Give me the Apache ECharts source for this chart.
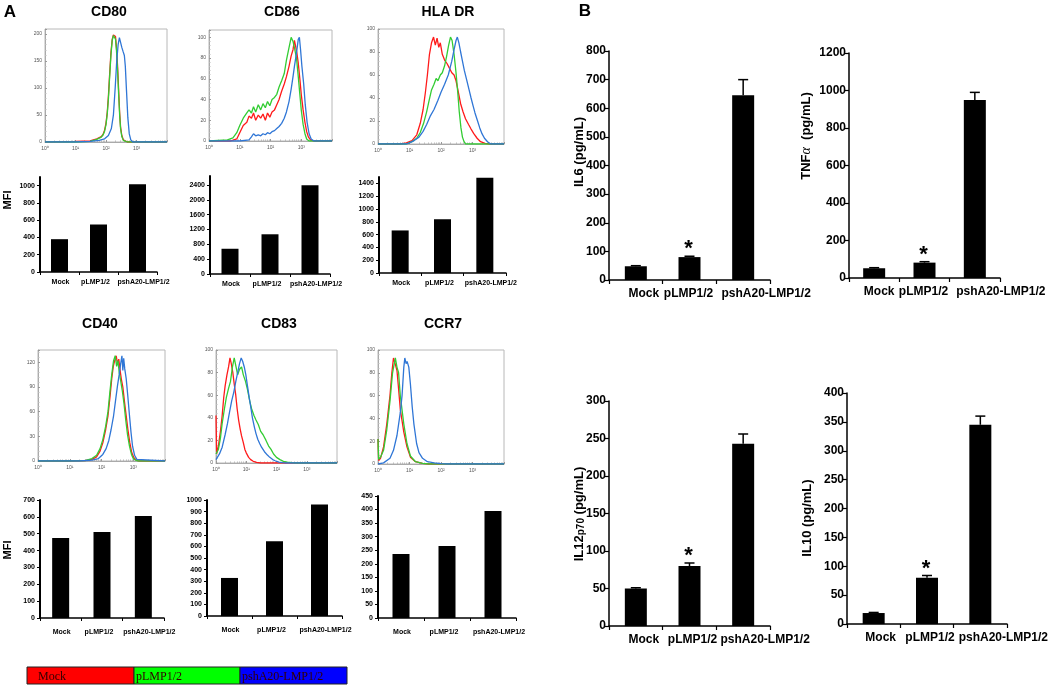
<!DOCTYPE html>
<html><head><meta charset="utf-8">
<script src="https://cdn.jsdelivr.net/npm/echarts@6/dist/echarts.min.js"></script>
<style>html,body{margin:0;padding:0;background:#fff}#c{width:1050px;height:685px}</style>
</head><body><div id="c"></div>
<script>
// ---------- data ----------
const groups = ['Mock', 'pLMP1/2', 'pshA20-LMP1/2'];
const markerNames = ['CD80', 'CD86', 'HLA DR', 'CD40', 'CD83', 'CCR7'];
const histTickLabels = ['10⁰', '10¹', '10²', '10³', '10⁴'];

// flow histograms: [fluorescence, count]
const cd80Mock = [[1,0],[10,1],[30,2],[50,6],[70,10],[80,14],[90,22],[100,35],[110,55],[120,85],[130,120],[145,165],[160,190],[175,198],[190,200],[205,195],[220,175],[240,140],[260,95],[280,55],[300,28],[330,12],[370,4],[420,1],[500,0],[10000,0]];
const cd80Lmp = [[1,0],[10,0],[30,1],[50,5],[70,9],[80,13],[90,20],[100,32],[110,52],[120,80],[130,115],[145,160],[160,188],[175,197],[190,199],[205,190],[220,170],[240,132],[260,88],[280,50],[300,25],[330,10],[370,3],[420,1],[500,0],[10000,0]];
const cd80Sh = [[1,0],[10,0],[30,1],[60,3],[90,6],[120,12],[150,25],[175,50],[200,100],[225,150],[250,180],[275,193],[300,190],[330,175],[360,168],[400,160],[430,140],[470,95],[520,45],[580,15],[650,4],[750,0],[10000,0]];

const cd86Mock = [[1,0],[5,0],[8,2],[10,8],[13,15],[17,18],[20,24],[24,22],[28,27],[33,20],[40,25],[48,22],[57,26],[68,20],[80,27],[95,23],[112,28],[135,30],[160,35],[190,40],[230,48],[280,55],[330,62],[400,72],[470,82],[540,88],[600,97],[650,92],[720,85],[800,75],[900,60],[1000,45],[1150,30],[1320,18],[1500,9],[1700,4],[2000,1],[2500,0],[10000,0]];
const cd86Lmp = [[1,0],[4,1],[6,3],[8,8],[10,15],[13,22],[17,27],[20,30],[24,27],[28,33],[33,28],[40,35],[48,30],[57,36],[68,32],[80,38],[95,34],[112,40],[135,42],[160,45],[190,52],[230,58],[280,65],[330,78],[400,90],[470,100],[540,96],[600,90],[700,80],[800,62],[900,45],[1000,30],[1150,16],[1320,7],[1500,2],[1800,0],[10000,0]];
const cd86Sh = [[1,0],[10,0],[20,1],[24,4],[28,7],[33,5],[40,6],[48,5],[57,7],[68,6],[80,8],[95,7],[112,9],[135,10],[160,12],[190,14],[230,17],[280,22],[330,28],[400,38],[470,50],[540,62],[600,72],[700,85],[800,98],[870,100],[950,88],[1050,72],[1200,55],[1350,35],[1550,18],[1800,7],[2100,2],[2600,0],[10000,0]];

const hlaMock = [[1,0],[5,0],[8,1],[12,3],[17,8],[22,18],[27,30],[32,45],[37,60],[43,78],[50,88],[58,93],[66,86],[75,92],[85,84],[95,88],[110,78],[130,73],[155,70],[185,66],[220,62],[260,60],[300,55],[350,46],[420,35],[500,28],[600,22],[750,17],[900,13],[1100,9],[1400,5],[1800,2],[2500,0.5],[3500,0],[10000,0]];
const hlaLmp = [[1,0],[8,0],[12,2],[17,5],[22,10],[28,18],[35,28],[42,38],[50,47],[60,52],[70,57],[80,55],[95,60],[110,62],[130,68],[150,76],[175,86],[200,93],[225,90],[260,78],[300,62],[340,45],[380,28],[430,14],[480,6],[540,2],[600,0],[10000,0]];
const hlaSh = [[1,0],[8,0],[10,1],[14,3],[20,6],[27,11],[35,17],[45,24],[60,30],[80,38],[100,45],[130,52],[170,60],[220,72],[260,82],[300,90],[330,93],[370,88],[420,80],[480,72],[550,64],[650,56],[780,47],[900,40],[1050,33],[1200,27],[1450,20],[1700,14],[2000,9],[2400,5],[3000,2],[3800,0],[10000,0]];

const cd40Mock = [[1,0],[10,0],[30,0.5],[50,2],[70,5],[90,12],[110,22],[135,38],[160,55],[185,78],[210,100],[235,115],[260,122],[290,128],[320,118],[350,124],[380,112],[420,100],[470,90],[530,72],[600,55],[680,38],[780,22],[900,10],[1050,4],[1250,1],[1500,0],[10000,0]];
const cd40Lmp = [[1,0],[10,0],[30,0.5],[50,3],[70,7],[90,15],[110,26],[135,42],[160,60],[185,85],[210,105],[240,122],[270,128],[300,115],[330,122],[360,108],[400,98],[450,86],[510,70],[580,50],[660,32],[760,18],[880,8],[1000,3],[1200,1],[1400,0],[10000,0]];
const cd40Sh = [[1,0],[20,0],[50,1],[80,3],[110,8],[140,15],[170,25],[200,38],[240,55],[280,75],[320,92],[360,105],[400,118],[440,128],[470,110],[500,125],[540,112],[600,100],[670,80],[750,58],[850,35],[950,18],[1100,7],[1300,2],[1500,0],[10000,0]];

const cd83Mock = [[1,42],[1.05,8],[1.2,15],[1.4,28],[1.6,42],[1.8,58],[2.0,68],[2.3,78],[2.6,85],[2.9,93],[3.2,88],[3.6,80],[4.0,70],[4.5,60],[5.0,48],[5.6,38],[6.3,30],[7,24],[8,18],[9,12],[10,9],[12,5],[14,3],[17,1.5],[22,0.5],[30,0],[10000,0]];
const cd83Lmp = [[1,8],[1.2,12],[1.4,22],[1.6,35],[1.9,48],[2.2,58],[2.6,66],[3.0,72],[3.5,85],[4.0,93],[4.6,85],[5.2,78],[6,83],[7,85],[8,78],[9.5,72],[11,65],[13,55],[15,48],[18,42],[21,38],[25,34],[30,28],[36,25],[45,20],[55,15],[66,12],[80,8],[100,5],[130,3],[170,1.5],[230,0.8],[320,0.3],[400,0],[10000,0]];
const cd83Sh = [[1,3],[1.3,8],[1.6,14],[2.0,25],[2.4,35],[2.8,45],[3.3,55],[3.9,63],[4.5,72],[5.2,80],[6,88],[6.8,93],[7.6,90],[8.6,85],[9.7,78],[11,68],[12.5,58],[14,50],[16,40],[18.5,32],[21,26],[24,21],[28,17],[32,14],[40,10],[50,7],[60,5],[75,3],[90,2],[120,0.8],[160,0.3],[200,0],[10000,0]];

const ccr7Mock = [[1,22],[1.05,3],[1.2,5],[1.5,15],[1.9,35],[2.4,60],[2.75,80],[3.1,93],[3.5,88],[4.0,82],[4.5,66],[5.1,48],[6.6,28],[8.3,15],[10.7,6],[15.5,2],[26,0.5],[40,0],[10000,0]];
const ccr7Lmp = [[1,22],[1.05,4],[1.2,6],[1.5,12],[1.9,30],[2.4,55],[2.9,80],[3.55,93],[4.0,85],[4.5,80],[5.1,60],[6.6,35],[8.3,18],[10.7,7],[15.5,2],[26,0.5],[40,0],[10000,0]];
const ccr7Sh = [[1,0],[1.5,1],[2.4,5],[3.1,12],[4.0,25],[5.1,45],[5.8,60],[6.6,85],[7.1,93],[7.8,88],[8.4,90],[9.5,85],[10.7,70],[12.2,50],[13.8,35],[16.8,18],[20,10],[26,5],[37,2],[61,1],[100,0.3],[150,0],[10000,0]];

// MFI bar values
const mfiCD80 = [380, 550, 1015];
const mfiCD86 = [680, 1070, 2390];
const mfiHLA = [665, 840, 1490];
const mfiCD40 = [475, 510, 605];
const mfiCD83 = [328, 645, 962];
const mfiCCR7 = [236, 266, 395];

// cytokines (pg/mL) with upper error
const il6 = [48, 80, 645];       const il6Err = [2, 3, 55];
const tnf = [52, 82, 950];       const tnfErr = [3, 5, 40];
const il12 = [50, 80, 243];      const il12Err = [1, 4, 13];
const il10 = [19, 80, 345];      const il10Err = [1, 4, 15];
const significance = ['', '*', ''];

// ---------- build ----------
const F = '"Liberation Sans", Arial, sans-serif';
const cRed = '#ff1a1a', cGreen = '#33cc33', cBlue = '#2f76d6';
const grid = [], xAxis = [], yAxis = [], series = [], graphic = [];
const plain = v => String(v);

function addGrid(g) { grid.push(Object.assign({ containLabel: false, outerBoundsMode: 'none' }, g)); return grid.length - 1; }

function richOffsets(offs, base) {
  const rich = {};
  offs.forEach((o, i) => {
    rich['l' + i] = Object.assign({}, base, { padding: o >= 0 ? [0, 0, 0, 2 * o] : [0, -2 * o, 0, 0] });
  });
  return rich;
}

function hist(g, ymax, iv, curves) {
  const gi = addGrid(Object.assign({ show: true, borderColor: '#b8b8b8', borderWidth: 1 }, g));
  xAxis.push({ type: 'log', logBase: 10, min: 1, max: 10000, gridIndex: gi,
    axisLine: { show: true, onZero: false, lineStyle: { color: '#aaa', width: 1 } },
    axisTick: { show: true, inside: true, length: 2, lineStyle: { color: '#999' } },
    minorTick: { show: true, splitNumber: 9, length: 1.5, lineStyle: { color: '#bbb' } },
    axisLabel: { fontSize: 5, color: '#555', margin: 4, showMaxLabel: false, fontFamily: F,
      formatter: v => histTickLabels[Math.round(Math.log10(v))] },
    splitLine: { show: false } });
  yAxis.push({ type: 'value', min: 0, max: ymax, interval: iv, gridIndex: gi,
    axisLine: { show: true, lineStyle: { color: '#aaa', width: 1 } },
    axisTick: { show: true, inside: true, length: 2, lineStyle: { color: '#999' } },
    minorTick: { show: true, splitNumber: 5, length: 1.5, lineStyle: { color: '#bbb' } },
    axisLabel: { fontSize: 5, color: '#555', margin: 3, fontFamily: F, formatter: plain, showMaxLabel: ymax % iv === 0 },
    splitLine: { show: false } });
  const cols = [cRed, cGreen, cBlue];
  curves.forEach((d, k) => series.push({ type: 'line', xAxisIndex: gi, yAxisIndex: gi, data: d,
    showSymbol: false, symbol: 'none', smooth: false, animation: false,
    lineStyle: { color: cols[k], width: 1.3 } }));
}

function mfiBar(g, ymax, iv, vals, labelMargin) {
  const gi = addGrid(g);
  const base = { fontSize: 7, fontWeight: 'bold', color: '#000', fontFamily: F };
  xAxis.push({ type: 'category', data: groups, gridIndex: gi,
    axisLine: { lineStyle: { color: '#000', width: 1.5 } },
    axisTick: { show: true, length: 3, lineStyle: { color: '#000' } },
    axisLabel: Object.assign({ interval: 0, margin: labelMargin,
      formatter: (v, i) => '{l' + i + '|' + v + '}', rich: richOffsets([1, -3, 6], base) }, base) });
  yAxis.push({ type: 'value', min: 0, max: ymax, interval: iv, gridIndex: gi,
    axisLine: { show: true, lineStyle: { color: '#000', width: 2 } },
    axisTick: { show: true, length: 3, lineStyle: { color: '#000' } },
    axisLabel: { fontSize: 7, fontWeight: 'bold', color: '#000', margin: 5, fontFamily: F, formatter: plain, showMaxLabel: ymax % iv === 0 },
    splitLine: { show: false } });
  series.push({ type: 'bar', xAxisIndex: gi, yAxisIndex: gi, data: vals, barWidth: 17,
    itemStyle: { color: '#000' }, animation: false });
}

function cytoBar(g, ymax, iv, vals, errs, offs) {
  const gi = addGrid(g);
  const base = { fontSize: 12, fontWeight: 'bold', color: '#000', fontFamily: F };
  xAxis.push({ type: 'category', data: groups, gridIndex: gi,
    axisLine: { lineStyle: { color: '#000', width: 1.5 } },
    axisTick: { show: true, length: 4, lineStyle: { color: '#000', width: 1.2 } },
    axisLabel: Object.assign({ interval: 0, margin: 8,
      formatter: (v, i) => '{l' + i + '|' + v + '}', rich: richOffsets(offs, base) }, base) });
  yAxis.push({ type: 'value', min: 0, max: ymax, interval: iv, gridIndex: gi,
    axisLine: { show: true, lineStyle: { color: '#000', width: 1.5 } },
    axisTick: { show: true, length: 4, lineStyle: { color: '#000', width: 1.2 } },
    axisLabel: { fontSize: 12, fontWeight: 'bold', color: '#000', margin: 3, fontFamily: F, formatter: plain },
    splitLine: { show: false } });
  series.push({ type: 'bar', xAxisIndex: gi, yAxisIndex: gi, data: vals, barWidth: 22,
    itemStyle: { color: '#000' }, animation: false });
  series.push({ type: 'custom', xAxisIndex: gi, yAxisIndex: gi, animation: false, z: 5,
    data: vals.map((v, i) => [i, v, v + errs[i]]),
    encode: { x: 0, y: [1, 2] },
    renderItem: (params, api) => {
      const p0 = api.coord([api.value(0), api.value(1)]);
      const p1 = api.coord([api.value(0), api.value(2)]);
      const w = 5;
      const ch = [
        { type: 'line', shape: { x1: p0[0], y1: p0[1], x2: p1[0], y2: p1[1] }, style: { stroke: '#000', lineWidth: 1.5 } },
        { type: 'line', shape: { x1: p1[0] - w, y1: p1[1], x2: p1[0] + w, y2: p1[1] }, style: { stroke: '#000', lineWidth: 1.5 } }
      ];
      const s = significance[params.dataIndex];
      if (s) ch.push({ type: 'text', x: p1[0] - 1, y: p1[1] - 7,
        style: { text: s, fontSize: 22, fontWeight: 'bold', fontFamily: F, fill: '#000', align: 'center', verticalAlign: 'middle' } });
      return { type: 'group', children: ch };
    } });
}

// panel A histograms
hist({ left: 45, top: 29, width: 122, height: 113 }, 209, 50, [cd80Mock, cd80Lmp, cd80Sh]);
hist({ left: 209, top: 30, width: 123, height: 111 }, 107, 20, [cd86Mock, cd86Lmp, cd86Sh]);
hist({ left: 378, top: 29, width: 126, height: 115 }, 100, 20, [hlaMock, hlaLmp, hlaSh]);
hist({ left: 38, top: 350, width: 127, height: 111 }, 135, 30, [cd40Mock, cd40Lmp, cd40Sh]);
hist({ left: 216, top: 350, width: 121, height: 113 }, 100, 20, [cd83Mock, cd83Lmp, cd83Sh]);
hist({ left: 378, top: 350, width: 126, height: 114 }, 100, 20, [ccr7Mock, ccr7Lmp, ccr7Sh]);

// panel A MFI bars
mfiBar({ left: 40, top: 177, width: 117, height: 95 }, 1100, 200, mfiCD80, 7);
mfiBar({ left: 210, top: 176, width: 120, height: 98 }, 2640, 400, mfiCD86, 7);
mfiBar({ left: 379, top: 177, width: 127, height: 96 }, 1500, 200, mfiHLA, 7);
mfiBar({ left: 40, top: 500, width: 124, height: 118 }, 700, 100, mfiCD40, 11);
mfiBar({ left: 207, top: 500, width: 135, height: 116 }, 1000, 100, mfiCD83, 11);
mfiBar({ left: 378, top: 496, width: 138, height: 122 }, 450, 50, mfiCCR7, 11);

// panel B
cytoBar({ left: 609, top: 51, width: 161, height: 229 }, 800, 100, il6, il6Err, [8, -1, 23]);
cytoBar({ left: 849, top: 53, width: 151, height: 225 }, 1200, 200, tnf, tnfErr, [5, -1, 26]);
cytoBar({ left: 609, top: 401, width: 161, height: 225 }, 300, 50, il12, il12Err, [8, 3, 22]);
cytoBar({ left: 847, top: 393, width: 160, height: 231 }, 400, 50, il10, il10Err, [7, 3, 23]);

// texts
function txt(x, y, text, size, extra) {
  graphic.push(Object.assign({ type: 'text', x: x, y: y, silent: true,
    style: Object.assign({ text: text, fontSize: size, fontWeight: 'bold', fontFamily: F, fill: '#000',
      align: 'center', verticalAlign: 'middle' }, (extra && extra.style) || {}) }, extra ? { rotation: extra.rotation || 0 } : {}));
}
txt(10, 12, 'A', 17);
txt(585, 11, 'B', 17);
const titlePos = [[109, 12], [282, 12], [448, 12], [100, 324], [279, 324], [443, 324]];
markerNames.forEach((n, i) => txt(titlePos[i][0], titlePos[i][1], n, 14));
txt(8, 200, 'MFI', 11, { rotation: Math.PI / 2 });
txt(8, 550, 'MFI', 11, { rotation: Math.PI / 2 });
txt(579, 152, 'IL6 (pg/mL)', 13, { rotation: Math.PI / 2 });
txt(806, 136, 'TNF{a|α}  (pg/mL)', 13, { rotation: Math.PI / 2,
  style: { rich: { a: { fontSize: 14, fontStyle: 'italic', fontWeight: 'normal', fontFamily: '"Liberation Serif", serif', fill: '#000' } } } });
txt(579, 514, 'IL12{s|p70} (pg/mL)', 13, { rotation: Math.PI / 2,
  style: { rich: { s: { fontSize: 10, fontWeight: 'bold', fontFamily: F, fill: '#000', padding: [5, 0, 0, 0] } } } });
txt(807, 518, 'IL10 (pg/mL)', 13, { rotation: Math.PI / 2 });

// colour key
const keyCols = ['#ff0000', '#00ff00', '#0000ff'];
const keyX = [27, 134, 240, 347];
groups.forEach((gname, i) => {
  graphic.push({ type: 'rect', silent: true, shape: { x: keyX[i], y: 667, width: keyX[i + 1] - keyX[i], height: 17 },
    style: { fill: keyCols[i], stroke: '#222', lineWidth: 1 } });
  graphic.push({ type: 'text', silent: true, x: keyX[i] + (i === 0 ? 11 : 2), y: 677,
    style: { text: gname, fontSize: 12, fontFamily: '"Liberation Serif", "Times New Roman", serif', fill: '#300', align: 'left', verticalAlign: 'middle' } });
});

const chart = echarts.init(document.getElementById('c'), null, { renderer: 'canvas' });
chart.setOption({ animation: false, backgroundColor: '#fff', textStyle: { fontFamily: F },
  grid: grid, xAxis: xAxis, yAxis: yAxis, series: series, graphic: graphic });
</script></body></html>
